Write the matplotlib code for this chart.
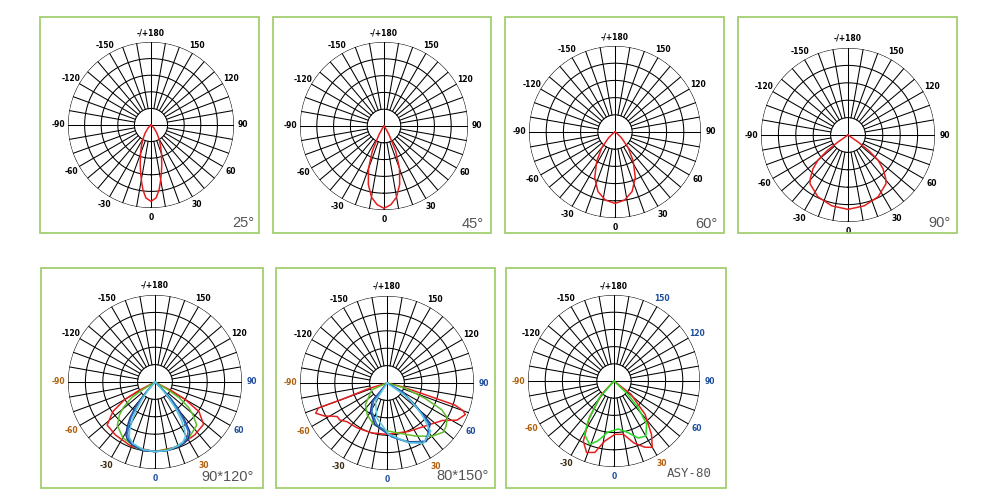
import numpy as np
import matplotlib
matplotlib.use("Agg")
import matplotlib.pyplot as plt
from matplotlib.patches import Rectangle

# beam panels: angle in degrees (0 = straight down), relative intensity 0..1
beam_25_theta = [-55, -45, -36, -30, -25, -20, -15, -12, -9, -7, -4, 0, 4, 7, 9, 12, 15, 20, 25, 30, 36, 45, 55]
beam_25_r = [0, 0.05, 0.12, 0.19, 0.27, 0.37, 0.50, 0.60, 0.71, 0.79, 0.88, 0.92, 0.88, 0.79, 0.71, 0.60, 0.50, 0.37, 0.27, 0.19, 0.12, 0.05, 0]

beam_45_theta = [-40, -35, -30, -25, -20, -15, -10, -5, 0, 5, 10, 15, 20, 25, 30, 35, 40]
beam_45_r = [0, 0.03, 0.12, 0.33, 0.54, 0.72, 0.86, 0.94, 0.98, 0.94, 0.86, 0.72, 0.54, 0.33, 0.12, 0.03, 0]

beam_60_theta = [-60, -55, -48, -40, -32, -24, -16, -8, 0, 8, 16, 24, 32, 40, 48, 55, 60]
beam_60_r = [0, 0.03, 0.10, 0.24, 0.40, 0.58, 0.72, 0.80, 0.83, 0.80, 0.72, 0.58, 0.40, 0.24, 0.10, 0.03, 0]

beam_90_theta = [-57, -55, -53, -50, -46, -41, -38, -26, -13, 0, 13, 26, 38, 41, 46, 50, 53, 55, 57]
beam_90_r = [0, 0.15, 0.30, 0.45, 0.56, 0.66, 0.71, 0.79, 0.835, 0.855, 0.835, 0.79, 0.71, 0.66, 0.56, 0.45, 0.30, 0.15, 0]

# 90*120 panel
p5_red_theta = [-64, -62, -60, -55, -48, -37, -20, 0, 20, 37, 49, 56, 60, 62, 64]
p5_red_r = [0, 0.22, 0.40, 0.59, 0.74, 0.76, 0.79, 0.80, 0.79, 0.76, 0.74, 0.61, 0.40, 0.22, 0]
p5_green_theta = [-60, -58, -56, -51, -47, -41, -30, -15, 0, 15, 30, 44, 49, 53, 57, 59, 61]
p5_green_r = [0, 0.18, 0.33, 0.47, 0.56, 0.66, 0.74, 0.79, 0.80, 0.79, 0.76, 0.69, 0.58, 0.48, 0.33, 0.18, 0]
p5_navy_theta = [-44, -42, -40, -38, -35, -32, -29, -26, -20, -10, 0, 10, 20, 25, 30, 35, 38, 41, 44, 47, 49]
p5_navy_r = [0, 0.12, 0.25, 0.36, 0.50, 0.60, 0.69, 0.73, 0.77, 0.80, 0.80, 0.80, 0.79, 0.78, 0.76, 0.70, 0.55, 0.40, 0.25, 0.10, 0]
p5_blue_theta = [-43, -41, -39, -37, -34, -31, -28, -25, -20, -10, 0, 10, 20, 25, 30, 34, 37, 40, 43, 46, 48]
p5_blue_r = [0, 0.12, 0.25, 0.36, 0.49, 0.59, 0.67, 0.72, 0.76, 0.79, 0.80, 0.80, 0.78, 0.77, 0.74, 0.68, 0.54, 0.40, 0.25, 0.10, 0]
p5_cyan_theta = [-42, -40, -37, -34, -31, -28, -25, -20, -10, 0, 10, 20, 25, 29, 32, 35, 38, 41, 44, 46]
p5_cyan_r = [0, 0.12, 0.25, 0.38, 0.50, 0.62, 0.70, 0.75, 0.79, 0.80, 0.80, 0.78, 0.76, 0.72, 0.64, 0.52, 0.38, 0.24, 0.10, 0]

# 80*150 panel
p6_red_theta = [-75, -73, -70, -70, -67, -62, -59, -56, -52, -46, -34, -17, 0, 24, 45, 56, 62, 68, 70, 72, 73, 76, 78]
p6_red_r = [0, 0.22, 0.55, 0.84, 0.89, 0.81, 0.74, 0.69, 0.69, 0.64, 0.62, 0.60, 0.59, 0.61, 0.68, 0.77, 0.91, 0.97, 0.93, 0.82, 0.46, 0.18, 0]
p6_green_theta = [-70, -66, -45, -32, -18, 0, 15, 28, 40, 49, 54, 60, 64, 68, 74, 78]
p6_green_r = [0, 0.19, 0.35, 0.43, 0.50, 0.55, 0.60, 0.69, 0.80, 0.86, 0.84, 0.80, 0.70, 0.47, 0.22, 0]
p6_navy_theta = [-45, -39, -30, -16, 5, 20, 34, 41, 47, 52, 61, 66]
p6_navy_r = [0, 0.27, 0.38, 0.50, 0.62, 0.72, 0.81, 0.73, 0.68, 0.41, 0.20, 0]
p6_blue_theta = [-42, -37, -28, -14, 5, 20, 33, 40, 46, 51, 59, 64]
p6_blue_r = [0, 0.26, 0.37, 0.49, 0.62, 0.73, 0.80, 0.74, 0.66, 0.42, 0.21, 0]
p6_cyan_theta = [-38, -32, -16, 2, 20, 31, 42, 48, 55, 62]
p6_cyan_r = [0, 0.25, 0.42, 0.59, 0.73, 0.81, 0.75, 0.54, 0.30, 0]

# ASY-80 panel
p7_red_theta = [-48, -43, -34, -27, -21, -15, -9, 1, 10, 18, 25, 30, 35, 43, 52, 56]
p7_red_r = [0, 0.21, 0.51, 0.785, 0.89, 0.86, 0.71, 0.62, 0.63, 0.76, 0.85, 0.89, 0.76, 0.53, 0.25, 0]
p7_green_theta = [-46, -41, -33, -29, -21, -15, -7, 5, 15, 23, 30, 37, 42, 46, 52]
p7_green_r = [0, 0.26, 0.55, 0.71, 0.79, 0.72, 0.60, 0.56, 0.62, 0.72, 0.74, 0.63, 0.42, 0.22, 0]

tick_angles = [180, 150, 120, 90, 60, 30, 0, -30, -60, -90, -120, -150]
tick_labels = ["-/+180", "150", "120", "90", "60", "30", "0", "-30", "-60", "-90", "-120", "-150"]

RED = "#e3201f"
GREEN = "#5fbf2a"
NAVY = "#1b3a8f"
BLUE = "#2f74c0"
CYAN = "#5cc6e2"
BRIGHT_GREEN = "#22dd22"
BORDER = "#a3cf70"
ORANGE = "#b0600a"
DBLUE = "#1f4e9c"


def px_rect(x0, y0, x1, y1):
    return (x0 / 1000, 1 - y1 / 500, (x1 - x0) / 1000, (y1 - y0) / 500)


def draw_grid(ax, label_colors):
    # rings and spokes like the photometric chart
    t = np.linspace(0, 2 * np.pi, 361)
    for rr in [0.2, 0.4, 0.6, 0.8, 1.0]:
        ax.plot(t, np.full_like(t, rr), color="black", lw=0.75, zorder=1)
    for a in range(0, 360, 10):
        r0 = 0 if a % 90 == 0 else 0.2
        ax.plot([np.radians(a)] * 2, [r0, 1.0], color="black", lw=0.75, zorder=1)
    for a, lab in zip(tick_angles, tick_labels):
        ax.text(np.radians(a), 1.11, lab, ha="center", va="center", fontsize=5.5,
                fontweight="bold", color=label_colors.get(lab, "black"))


def make_polar(fig, cx, cy, R):
    ax = fig.add_axes(px_rect(cx - R, cy - R, cx + R, cy + R), projection="polar")
    ax.set_theta_zero_location("S")
    ax.set_theta_direction(1)
    ax.set_ylim(0, 1)
    ax.grid(False)
    ax.set_xticks([])
    ax.set_yticks([])
    ax.spines["polar"].set_visible(False)
    ax.patch.set_alpha(0)
    return ax


fig = plt.figure(figsize=(10, 5), dpi=100)

panels = [
    # box, centre/radius, curves, title, title pos, title size, label colours
    ((40, 17, 259, 233), (151, 125, 83), [(beam_25_theta, beam_25_r, RED)], "25°", (254, 227), 10.5, {}),
    ((273, 17, 491, 233), (384, 126, 84), [(beam_45_theta, beam_45_r, RED)], "45°", (484, 228), 10.5, {}),
    ((505, 17, 724, 233), (615, 132, 86), [(beam_60_theta, beam_60_r, RED)], "60°", (717, 228), 10.5, {}),
    ((738, 17, 957, 233), (848, 135, 87), [(beam_90_theta, beam_90_r, RED)], "90°", (951, 227), 10.5, {}),
]

bottom_colors = {"-90": ORANGE, "-60": ORANGE, "30": ORANGE, "-30": "#3a2a10",
                 "90": DBLUE, "60": DBLUE, "0": DBLUE}
asy_colors = dict(bottom_colors)
asy_colors.update({"150": DBLUE, "120": DBLUE})

panels += [
    ((41, 268, 263, 488), (155, 382, 87),
     [(p5_red_theta, p5_red_r, RED), (p5_green_theta, p5_green_r, GREEN),
      (p5_navy_theta, p5_navy_r, NAVY), (p5_blue_theta, p5_blue_r, BLUE),
      (p5_cyan_theta, p5_cyan_r, CYAN)], "90*120°", (254, 481), 10.5, bottom_colors),
    ((276, 268, 495, 488), (387, 383, 87),
     [(p6_red_theta, p6_red_r, RED), (p6_green_theta, p6_green_r, GREEN),
      (p6_navy_theta, p6_navy_r, NAVY), (p6_blue_theta, p6_blue_r, BLUE),
      (p6_cyan_theta, p6_cyan_r, CYAN)], "80*150°", (489, 480), 10.5, bottom_colors),
    ((506, 268, 726, 488), (614, 381, 86),
     [(p7_red_theta, p7_red_r, RED), (p7_green_theta, p7_green_r, BRIGHT_GREEN)],
     "ASY-80", (712, 477), 9, asy_colors),
]

for box, (cx, cy, R), curves, title, (tx, ty), tsize, lcols in panels:
    x, y, w, h = px_rect(*box)
    fig.patches.append(Rectangle((x, y), w, h, transform=fig.transFigure, fill=False,
                                 edgecolor=BORDER, lw=1.3))
    ax = make_polar(fig, cx, cy, R)
    draw_grid(ax, lcols)
    for th, r, c in curves:
        ax.plot(np.radians(th), r, color=c, lw=1.1, zorder=3)
    fam = "DejaVu Sans Mono" if title == "ASY-80" else "Liberation Sans"
    fig.text(tx / 1000, 1 - ty / 500, title, ha="right", va="baseline",
             fontsize=tsize, color="#555555", family=fam)

fig.savefig("out.png", dpi=100)
